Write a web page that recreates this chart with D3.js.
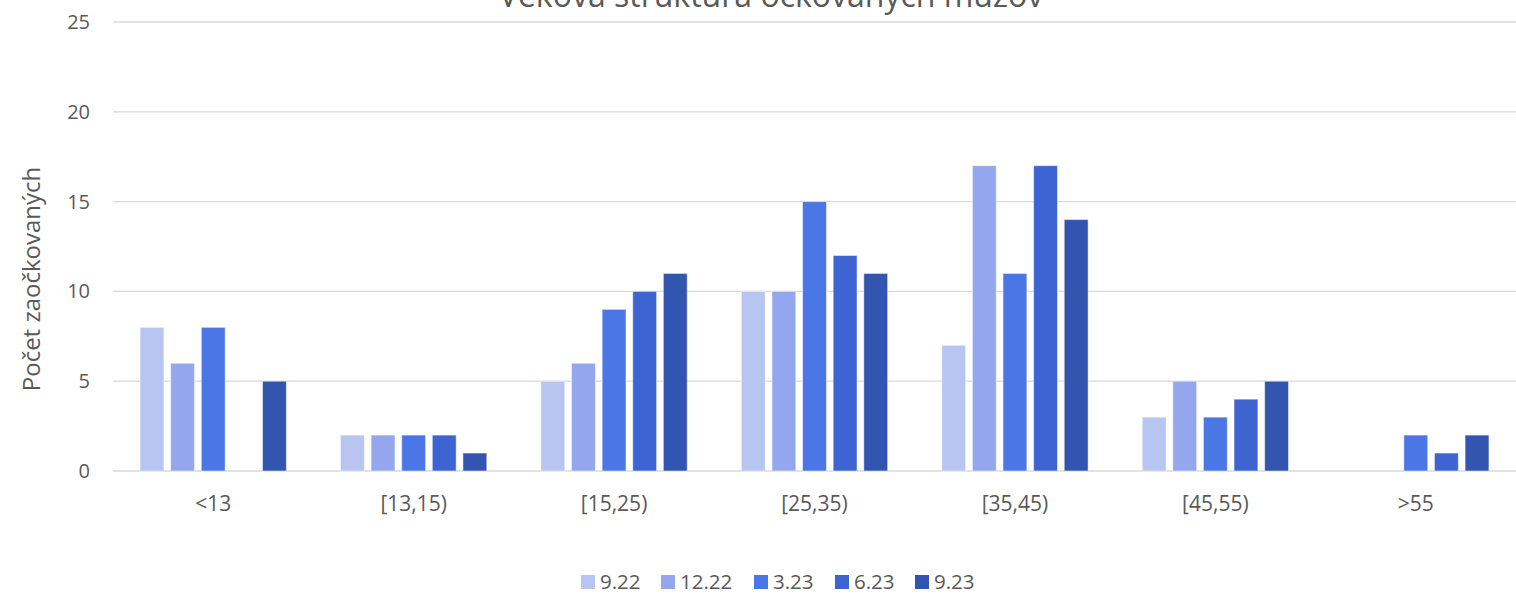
<!DOCTYPE html>
<html>
<head>
<meta charset="utf-8">
<script src="https://cdn.jsdelivr.net/npm/d3@7"></script>
<style>
  body { margin: 0; background: #fff; }
  text { font-family: "Open Sans", sans-serif; fill: #595959; }
</style>
</head>
<body>
<script>
// categories and series
var categories = ["<13", "[13,15)", "[15,25)", "[25,35)", "[35,45)", "[45,55)", ">55"];
var seriesNames = ["9.22", "12.22", "3.23", "6.23", "9.23"];
var s922  = [8, 2, 5, 10, 7, 3, 0];
var s1222 = [6, 2, 6, 10, 17, 5, 0];
var s323  = [8, 2, 9, 15, 11, 3, 2];
var s623  = [0, 2, 10, 12, 17, 4, 1];
var s923  = [5, 1, 11, 11, 14, 5, 2];
var yTicks = [0, 5, 10, 15, 20, 25];
var colors = ["#b9c5f1", "#93a6ee", "#4a76e6", "#3d64d0", "#3255b0"];

var series = [s922, s1222, s323, s623, s923];

var W = 1516, H = 594;
var margin = {top: 22, right: 0, bottom: 123, left: 113};
var width = W - margin.left - margin.right,
    height = H - margin.top - margin.bottom;

var svg = d3.select("body").append("svg")
    .attr("width", W)
    .attr("height", H);

var g = svg.append("g")
    .attr("transform", "translate(" + margin.left + "," + margin.top + ")");

var x0 = d3.scaleBand().domain(categories).range([0, width]).paddingInner(0.27).paddingOuter(0.135);
var x1 = d3.scaleBand().domain(seriesNames).range([0, x0.bandwidth()]).paddingInner(0.22);
var y = d3.scaleLinear().domain([0, 25]).range([height, 0]);

// gridlines
g.selectAll(".grid")
   .data(yTicks)
   .enter()
   .append("line")
   .attr("x1", 0)
   .attr("x2", width)
   .attr("y1", function(d){ return y(d); })
   .attr("y2", function(d){ return y(d); })
   .attr("stroke", "#d9d9d9")
   .attr("stroke-width", 1.3);

// y tick labels
g.selectAll(".ytick")
   .data(yTicks)
   .enter()
   .append("text")
   .attr("x", -23)
   .attr("y", function(d){ return y(d); })
   .attr("dy", "0.35em")
   .attr("text-anchor", "end")
   .style("font-size", "20px")
   .text(function(d){ return d; });

// bars
for(var i = 0; i < series.length; i++){
    var vals = series[i];
    g.selectAll(".bar" + i)
       .data(vals)
       .enter()
       .append("rect")
       .attr("x", function(d, j){ return x0(categories[j]) + x1(seriesNames[i]); })
       .attr("y", function(d){ return y(d); })
       .attr("width", x1.bandwidth())
       .attr("height", function(d){ return height - y(d); })
       .attr("fill", colors[i])
       .attr("stroke", "#fff")
       .attr("stroke-opacity", 0.5)
       .style("display", function(d){ return d > 0 ? null : "none"; });
}

// x category labels
g.selectAll(".xtick")
   .data(categories)
   .enter()
   .append("text")
   .attr("x", function(d){ return x0(d) + x0.bandwidth()/2; })
   .attr("y", height + 40)
   .attr("text-anchor", "middle")
   .style("font-size", "21px")
   .text(function(d){ return d; });

// y axis title
svg.append("text")
   .attr("transform", "translate(40," + 279 + ") rotate(-90)")
   .attr("text-anchor", "middle")
   .style("font-size", "24px")
   .text("Počet zaočkovaných");

// title (cut off at top like the original)
svg.append("text")
   .attr("x", 771)
   .attr("y", 7)
   .attr("text-anchor", "middle")
   .style("font-size", "32px")
   .text("Veková štruktúra očkovaných mužov");

// legend
var legendX = [581, 661, 754, 835, 915];
var legend = svg.selectAll(".legend")
   .data(seriesNames)
   .enter()
   .append("g")
   .attr("transform", function(d, i){ return "translate(" + legendX[i] + ",582)"; });

legend.append("rect")
   .attr("x", 0)
   .attr("y", -7)
   .attr("width", 14)
   .attr("height", 14)
   .attr("fill", function(d, i){ return colors[i]; });

legend.append("text")
   .attr("x", 19)
   .attr("y", 0)
   .attr("dy", "0.35em")
   .style("font-size", "20.5px")
   .text(function(d){ return d; });
</script>
</body>
</html>
